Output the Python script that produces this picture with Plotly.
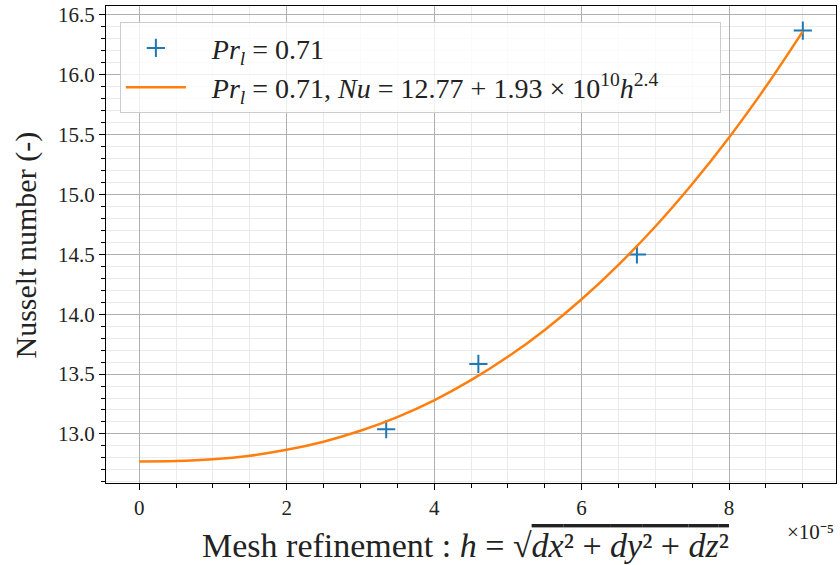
import plotly.graph_objects as go

# Measured points (h in units of 1e-5)
h_points = [3.35, 4.60, 6.75, 9.00]
nu_points = [13.04, 13.585, 14.50, 16.37]

# Fitted curve, values
h_fit = [0.0, 0.5, 1.0, 1.5, 2.0, 2.5, 3.0, 3.5, 4.0, 4.5, 5.0, 5.5, 6.0, 6.5, 7.0, 7.5, 8.0, 8.5, 9.0]
nu_fit = [12.770, 12.773, 12.788, 12.818, 12.867, 12.935, 13.026, 13.141, 13.281, 13.449,
          13.644, 13.869, 14.125, 14.413, 14.733, 15.088, 15.477, 15.902, 16.363]

x_ticks = [0, 2, 4, 6, 8]
y_ticks = [13.0, 13.5, 14.0, 14.5, 15.0, 15.5, 16.0, 16.5]

NB = "\u00a0"
label_pts = NB * 3 + "<i>Pr<sub>l</sub></i> = 0.71"
label_fit = NB * 3 + "<i>Pr<sub>l</sub></i> = 0.71, <i>Nu</i> = 12.77 + 1.93 × 10<sup>10</sup><i>h</i><sup>2.4</sup>" + NB * 8

FONT = "Liberation Serif"

fig = go.Figure()
fig.add_trace(go.Scatter(x=h_points, y=nu_points, mode="markers", name=label_pts, legendgroup="a",
                         marker=dict(symbol="cross-thin", size=13, color="#1f77b4",
                                     line=dict(width=2, color="#1f77b4"))))
fig.add_trace(go.Scatter(x=h_fit, y=nu_fit, mode="lines", name=label_fit, legendgroup="b",
                         line=dict(color="#ff7f0e", width=2.5, shape="spline")))

axis_common = dict(showline=True, linecolor="black", linewidth=1.3, mirror=True,
                   ticks="outside", ticklen=6, tickwidth=1.2, tickcolor="black", automargin=False,
                   showgrid=True, gridcolor="#b0b0b0", gridwidth=1,
                   zeroline=False, tickfont=dict(family=FONT, size=21, color="#222"))

fig.update_xaxes(range=[-0.45, 9.45], tickvals=x_ticks, ticktext=[str(v) for v in x_ticks],
                 minor=dict(dtick=0.5, tick0=0, ticks="outside", ticklen=3.5, tickcolor="black",
                            showgrid=True, gridcolor="#ebebeb", gridwidth=1),
                 **axis_common)
fig.update_yaxes(range=[12.59, 16.575], tickvals=y_ticks, ticktext=[f"{v:.1f}" for v in y_ticks],
                 minor=dict(dtick=0.1, tick0=13.0, ticks="outside", ticklen=3.5, tickcolor="black",
                            showgrid=True, gridcolor="#ebebeb", gridwidth=1),
                 **axis_common)

# axis titles
fig.add_annotation(text="Mesh refinement : <i>h</i> = √<span style='text-decoration:overline'><i>dx</i>² + <i>dy</i>² + <i>dz</i>²</span>",
                   xref="paper", yref="paper", x=0.493, y=-0.13, xanchor="center", yanchor="middle",
                   showarrow=False, font=dict(family=FONT, size=34, color="#222"))
fig.add_annotation(text="Nusselt number (-)", xref="paper", yref="paper", x=-0.1096, y=0.5,
                   xanchor="center", yanchor="middle", textangle=-90,
                   showarrow=False, font=dict(family=FONT, size=30, color="#222"))

fig.add_annotation(text="×10⁻⁵", xref="paper", yref="paper", x=1.0, y=-0.074,
                   xanchor="right", yanchor="top", showarrow=False,
                   font=dict(family=FONT, size=21, color="#222"))

fig.update_layout(width=840, height=565, margin=dict(l=106, r=4, t=6, b=82),
                  plot_bgcolor="white", paper_bgcolor="white",
                  legend=dict(x=0.019, y=0.966, xanchor="left", yanchor="top",
                              bgcolor="rgba(255,255,255,0.8)", bordercolor="#cccccc", borderwidth=1,
                              font=dict(family=FONT, size=28, color="#222"),
                              itemwidth=60, tracegroupgap=0))

fig.write_html("out.html", config={"displayModeBar": False},
               post_script="document.body.style.margin='0';document.body.style.overflow='hidden';")
